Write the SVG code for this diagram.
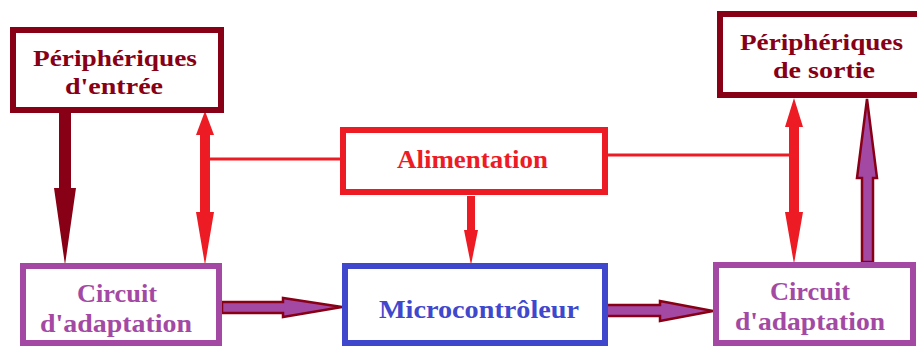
<svg xmlns="http://www.w3.org/2000/svg" width="917" height="347" viewBox="0 0 917 347">
<style>
.box{fill:#fff;stroke-width:6}
.t{font-family:"Liberation Serif","Times New Roman",serif;font-weight:bold;font-size:25px}
.t.p{font-size:23.5px}
.dr{stroke:#880015}
.rd{stroke:#ED1C24}
.bl{stroke:#3F48CC}
.pu{stroke:#A349A4}
</style>
<rect width="917" height="347" fill="#fff"/>
<g id="connectors">
  <polygon fill="#880015" points="59,113 71,113 71,188 76,188 65,265 54,188 59,188"/>
  <polygon fill="#ED1C24" points="205,111 214,135 210,135 210,212 214,212 205,265 196,212 200,212 200,135 196,135"/>
  <line x1="209" y1="159" x2="341" y2="159" stroke="#ED1C24" stroke-width="3"/>
  <line x1="607" y1="155" x2="790" y2="155" stroke="#ED1C24" stroke-width="3"/>
  <polygon fill="#ED1C24" points="794,98 803,127 799,127 799,212 803,212 794,264 785,212 789,212 789,127 785,127"/>
  <polygon fill="#ED1C24" points="467,196 475,196 475,230 478,230 471,265 464,230 467,230"/>
  <polygon fill="#A349A4" stroke="#880015" stroke-width="2.5" stroke-linejoin="miter" points="862,262 873,262 873,178 877,178 867,99 857,178 862,178"/>
  <polygon fill="#A349A4" stroke="#880015" stroke-width="2.5" points="222,302 283,302 283,298 342,307 283,317 283,313 222,313"/>
  <polygon fill="#A349A4" stroke="#880015" stroke-width="2.5" points="605,305 660,305 660,301 713,311 660,321 660,316 605,316"/>
</g>
<g id="peripheriques-entree">
  <rect class="box dr" x="13" y="30" width="208" height="80"/>
  <text class="t p" fill="#880015" x="33" y="66" textLength="164" lengthAdjust="spacingAndGlyphs">Périphériques</text>
  <text class="t p" fill="#880015" x="65" y="94" textLength="98" lengthAdjust="spacingAndGlyphs">d'entrée</text>
</g>
<g id="peripheriques-sortie">
  <rect class="box dr" x="720" y="14" width="203" height="81"/>
  <text class="t p" fill="#880015" x="740" y="50" textLength="163" lengthAdjust="spacingAndGlyphs">Périphériques</text>
  <text class="t p" fill="#880015" x="773" y="78" textLength="102" lengthAdjust="spacingAndGlyphs">de sortie</text>
</g>
<g id="alimentation">
  <rect class="box rd" x="343" y="130" width="262" height="62"/>
  <text class="t" fill="#ED1C24" x="397" y="168" textLength="151" lengthAdjust="spacingAndGlyphs">Alimentation</text>
</g>
<g id="microcontroleur">
  <rect class="box bl" x="345" y="266" width="260" height="77"/>
  <text class="t" fill="#3F48CC" x="379" y="318" textLength="200" lengthAdjust="spacingAndGlyphs">Microcontrôleur</text>
</g>
<g id="circuit-gauche">
  <rect class="box pu" x="23" y="266" width="196" height="77"/>
  <text class="t" fill="#A349A4" x="77" y="302" textLength="80" lengthAdjust="spacingAndGlyphs">Circuit</text>
  <text class="t" fill="#A349A4" x="40" y="332" textLength="152" lengthAdjust="spacingAndGlyphs">d'adaptation</text>
</g>
<g id="circuit-droite">
  <rect class="box pu" x="716" y="265" width="197" height="78"/>
  <text class="t" fill="#A349A4" x="770" y="300" textLength="80" lengthAdjust="spacingAndGlyphs">Circuit</text>
  <text class="t" fill="#A349A4" x="735" y="330" textLength="150" lengthAdjust="spacingAndGlyphs">d'adaptation</text>
</g>
</svg>
